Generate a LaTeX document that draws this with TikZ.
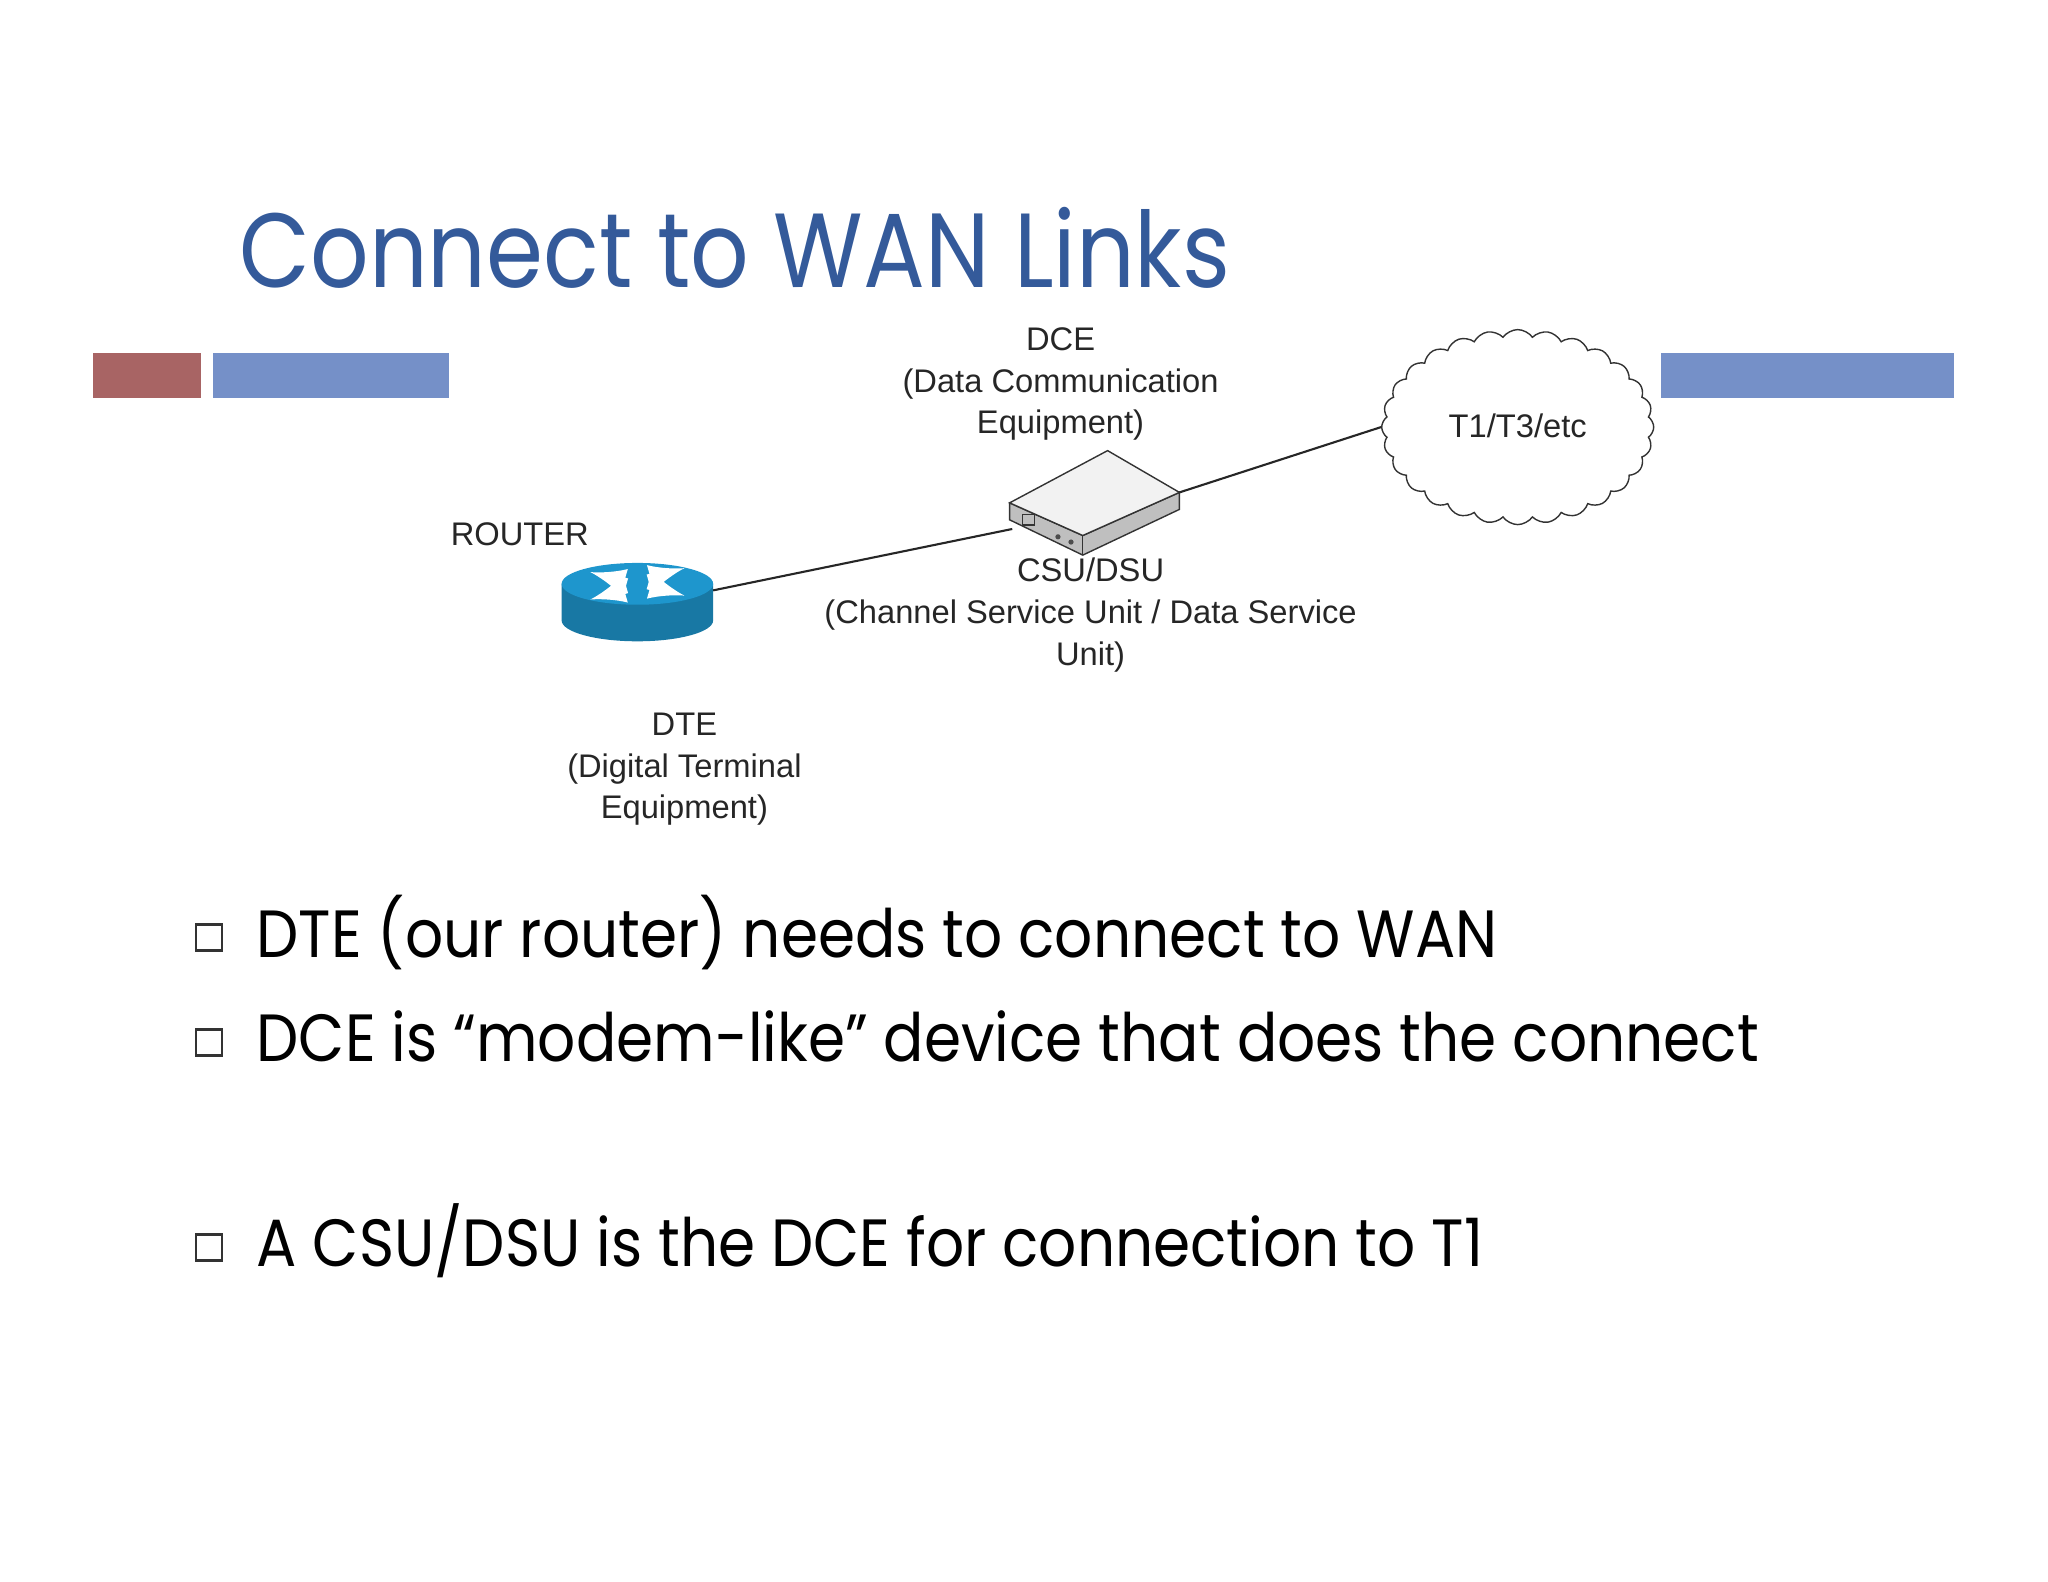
\documentclass[tikz,border=0pt]{standalone}
\usepackage{fontspec}
\setmainfont{Liberation Sans}
\newfontfamily\slidefont{Poppins}
\usetikzlibrary{positioning}
\usetikzlibrary{shapes}
\definecolor{titleblue}{RGB}{52,90,154}
\definecolor{barblue}{RGB}{117,144,200}
\definecolor{barred}{RGB}{168,100,100}
\definecolor{routerblue}{RGB}{30,150,205}
\newcommand{\narrow}[1]{\scalebox{0.895}[1]{#1}}
\tikzset{
    label/.style={font=\fontsize{9.3}{11.9}\selectfont, align=center, text=black!85},
    bullet/.style={font=\slidefont\fontsize{19}{24}\selectfont, anchor=base west},
    link/.style={draw=black!85, line width=0.6pt},
    routerarrow/.style={white, line width=2.4pt, ->, >=latex},
}
\begin{document}
\begin{tikzpicture}[x=0.01306cm, y=-0.01306cm]
	\useasboundingbox (0,0) rectangle (1568,1211);
	% title and bars
	\node[anchor=base west, inner sep=0pt, text=titleblue, font=\slidefont\fontsize{30}{36}\selectfont] (title) at (183,220) {\scalebox{0.87}[1]{Connect to WAN Links}};
	\fill[barred] (71,270) rectangle (154,305);
	\fill[barblue] (163,270) rectangle (344,305);
	\fill[barblue] (1272,270) rectangle (1496,305);
	% router
	\fill[routerblue!80!black] (430,447) -- (430,475) arc[start angle=180, end angle=0, x radius=58, y radius=16] -- (546,447) -- cycle;
	\fill[routerblue] (488,447) ellipse[x radius=58, y radius=16];
	\draw[routerarrow] (480,446) -- (452,438);
	\draw[routerarrow] (496,448) -- (524,456);
	\draw[routerarrow] (496,443) -- (524,435);
	\draw[routerarrow] (480,451) -- (452,459);
	\coordinate (router) at (546,452);
	% csu/dsu box
	\draw[black!80, fill=black!25] (773,385) -- (773,398) -- (829,425) -- (903,390) -- (903,377) -- (829,410) -- cycle;
	\draw[black!80, fill=black!5] (848,345) -- (903,377) -- (829,410) -- (773,385) -- cycle;
	\draw[black!80] (829,410) -- (829,425);
	\draw[black!80] (783,394) rectangle (792,402);
	\fill[black!70] (810,411) circle (2) (820,415) circle (2);
	\coordinate (csuL) at (775,405);
	\coordinate (csuR) at (903,377);
	% cloud
	\node[cloud, draw=black!80, cloud puffs=28, cloud puff arc=110, aspect=1.4,
	      minimum width=2.72cm, minimum height=1.95cm, inner sep=0pt] (wan) at (1162,327) {};
	\node[label] (wantext) at (1162,326) {T1/T3/etc};
	% links
	\draw[link] (router) -- (csuL);
	\draw[link] (csuR) -- (wan.west);
	% labels
	\node[label] (dce) at (812,294) {DCE\\(Data Communication\\Equipment)};
	\node[label] (routerlabel) at (398,409) {ROUTER};
	\node[label] (csu) at (835,471) {CSU/DSU\\(Channel Service Unit / Data Service\\Unit)};
	\node[label] (dte) at (524,589) {DTE\\(Digital Terminal\\Equipment)};
	% bullets
	\foreach \y/\t in {733/{DTE (our router) needs to connect to WAN},
	                   813/{DCE is “modem-like” device that does the connect},
	                   970/{A CSU/DSU is the DCE for connection to T1}} {
		\draw[black!80, line width=0.8pt] (150,\y-25) rectangle +(20,20);
		\node[bullet, inner sep=0pt] at (196,\y) {\narrow{\t}};
	}
\end{tikzpicture}
\end{document}
